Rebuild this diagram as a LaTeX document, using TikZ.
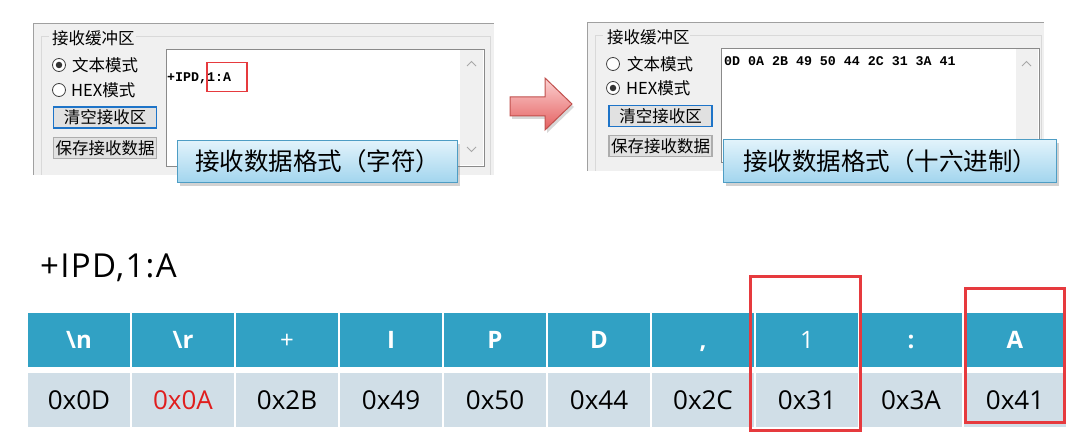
\documentclass[tikz,border=0pt]{standalone}
\usepackage{fontspec}
\setmainfont{Open Sans}
\newfontfamily\cjk{Noto Sans CJK SC}
\newfontfamily\monof{Liberation Mono}
\usetikzlibrary{shadows}
\definecolor{panelbg}{HTML}{F0F0F0}
\definecolor{panelline}{HTML}{A0A0A0}
\definecolor{gbline}{HTML}{D9D9D9}
\definecolor{taline}{HTML}{8A8A8A}
\definecolor{btnbg}{HTML}{E1E1E1}
\definecolor{btnblue}{HTML}{1E74C8}
\definecolor{btngrey}{HTML}{ADADAD}
\definecolor{chev}{HTML}{A8A8A8}
\definecolor{calltop}{HTML}{E2F3FB}
\definecolor{callbot}{HTML}{A2D5EE}
\definecolor{callline}{HTML}{4E9DC4}
\definecolor{arrtop}{HTML}{FCD2D2}
\definecolor{arrbot}{HTML}{E45F5F}
\definecolor{arrline}{HTML}{C0504D}
\definecolor{hdr}{HTML}{31A1C4}
\definecolor{rowc}{HTML}{D0DEE7}
\definecolor{redc}{HTML}{E63A3E}
\definecolor{txtred}{HTML}{E01E1E}
\begin{document}
\begin{tikzpicture}[x=1pt,y=-1pt,
  ui/.style={font=\cjk\fontsize{16.5}{17}\selectfont, inner sep=0pt, anchor=west},
  radio/.style={circle, draw=black!75, fill=white, line width=0.8pt, minimum size=13pt, inner sep=0pt},
  rdot/.style={circle, fill=black!80, minimum size=6.5pt, inner sep=0pt},
  btn/.style={draw=#1, fill=btnbg, line width=1.2pt, minimum width=103pt, minimum height=21pt, inner sep=0pt, font=\cjk\fontsize{16.5}{17}\selectfont},
  textarea/.style={draw=taline, fill=white, line width=1pt, inner sep=0pt, anchor=north west},
  monotext/.style={font=\monof\bfseries\fontsize{13.3}{14}\selectfont, inner sep=0pt, anchor=west},
  callout/.style={draw=callline, line width=1pt, top color=calltop, bottom color=callbot, inner sep=0pt, anchor=north west, font=\cjk\fontsize{24.5}{25}\selectfont, drop shadow={shadow xshift=2pt, shadow yshift=-4pt, opacity=.35}},
  bigarrow/.style={draw=arrline, line width=1pt, top color=arrtop, bottom color=arrbot, drop shadow={shadow xshift=2pt, shadow yshift=-3pt, opacity=.3}},
  hcell/.style={fill=hdr, text=white, minimum width=102pt, minimum height=54pt, inner sep=0pt, text height=17pt, text depth=0pt, font=\bfseries\fontsize{24}{24}\selectfont},
  vcell/.style={fill=rowc, text=black, minimum width=102pt, minimum height=54pt, inner sep=0pt, text height=18.5pt, text depth=0pt, font=\fontsize{26}{26}\selectfont},
  redbox/.style={draw=redc, line width=3pt, inner sep=0pt, anchor=north west}
]
\useasboundingbox (0,0) rectangle (1089,446);
\fill[white] (0,0) rectangle (1089,446);

% ---------- left panel ----------
\fill[panelbg] (33,24) rectangle (494,175);
\draw[panelline, line width=1pt] (33,175) -- (33,24) -- (494,24);
\draw[gbline, line width=1pt] (41,175) -- (41,37) -- (49,37);
\draw[gbline, line width=1pt] (136,37) -- (490,37) -- (490,175);
\node[ui] (lgb) at (52,38) {接收缓冲区};
\node[radio] (lr1) at (59,65) {};
\node[rdot] at (lr1) {};
\node[ui] (lr1t) at (72,65) {文本模式};
\node[radio] (lr2) at (59,90) {};
\node[ui] (lr2t) at (71,90) {HEX模式};
\node[btn=btnblue] (lb1) at (105,117.5) {清空接收区};
\node[btn=btngrey] (lb2) at (105,148) {保存接收数据};
\node[textarea, minimum width=318pt, minimum height=117pt] (lta) at (166,49) {};
\fill[panelbg] (460,50) rectangle (483,165);
\draw[chev, line width=1pt] (467,66) -- (471.5,61.5) -- (476,66);
\draw[chev, line width=1pt] (467,147) -- (471.5,151.5) -- (476,147);
\node[monotext] (ltxt) at (167,78) {+IPD,1:A};
\node[draw=redc, line width=1.5pt, inner sep=0pt, anchor=north west, minimum width=40pt, minimum height=29pt] (lsel) at (206,62) {};
\node[callout, minimum width=280pt, minimum height=42pt] (lcall) at (177,140) {接收数据格式（字符）};

% ---------- arrow ----------
\draw[bigarrow] (510,97) -- (545,97) -- (545,78) -- (572,104) -- (545,130) -- (545,116) -- (510,116) -- cycle;

% ---------- right panel ----------
\fill[panelbg] (587,23) rectangle (1044,171);
\draw[panelline, line width=1pt] (587,171) -- (587,23) -- (1044,23);
\draw[gbline, line width=1pt] (595,171) -- (595,36) -- (603,36);
\draw[gbline, line width=1pt] (690,36) -- (1041,36) -- (1041,171);
\node[ui] (rgb) at (607,37) {接收缓冲区};
\node[radio] (rr1) at (613,64) {};
\node[ui] (rr1t) at (627,64) {文本模式};
\node[radio] (rr2) at (613,88) {};
\node[rdot] at (rr2) {};
\node[ui] (rr2t) at (626,88) {HEX模式};
\node[btn=btnblue] (rb1) at (660.5,116) {清空接收区};
\node[btn=btngrey] (rb2) at (660.5,146) {保存接收数据};
\node[textarea, minimum width=318pt, minimum height=114pt] (rta) at (721,48) {};
\fill[panelbg] (1016,49) rectangle (1038,161);
\draw[chev, line width=1pt] (1022,66) -- (1026.5,61.5) -- (1031,66);
\node[monotext] (rtxt) at (724,61) {0D 0A 2B 49 50 44 2C 31 3A 41};
\node[callout, minimum width=333pt, minimum height=43pt] (rcall) at (723,139) {接收数据格式（十六进制）};

% ---------- string ----------
\node[anchor=base west, inner sep=0pt, font=\fontsize{33}{33}\selectfont\addfontfeature{LetterSpace=4}] (str) at (40,277) {+IPD,1:A};

% ---------- table ----------
\foreach \h/\v/\c [count=\i from 0] in {{\textbackslash n}/0x0D/black, {\textbackslash r}/0x0A/txtred, {\mdseries +}/0x2B/black, I/0x49/black, P/0x50/black, D/0x44/black, {,}/0x2C/black, {\mdseries 1}/0x31/black, :/0x3A/black, A/0x41/black}{
  \node[hcell] (h\i) at (79+104*\i, 340) {\h};
  \node[vcell, text=\c] (v\i) at (79+104*\i, 400) {\v};
}
\node[redbox, minimum width=110pt, minimum height=154pt] (hl1) at (749,275) {};
\node[redbox, minimum width=99pt, minimum height=134pt] (hl2) at (964,287) {};
\end{tikzpicture}
\end{document}
